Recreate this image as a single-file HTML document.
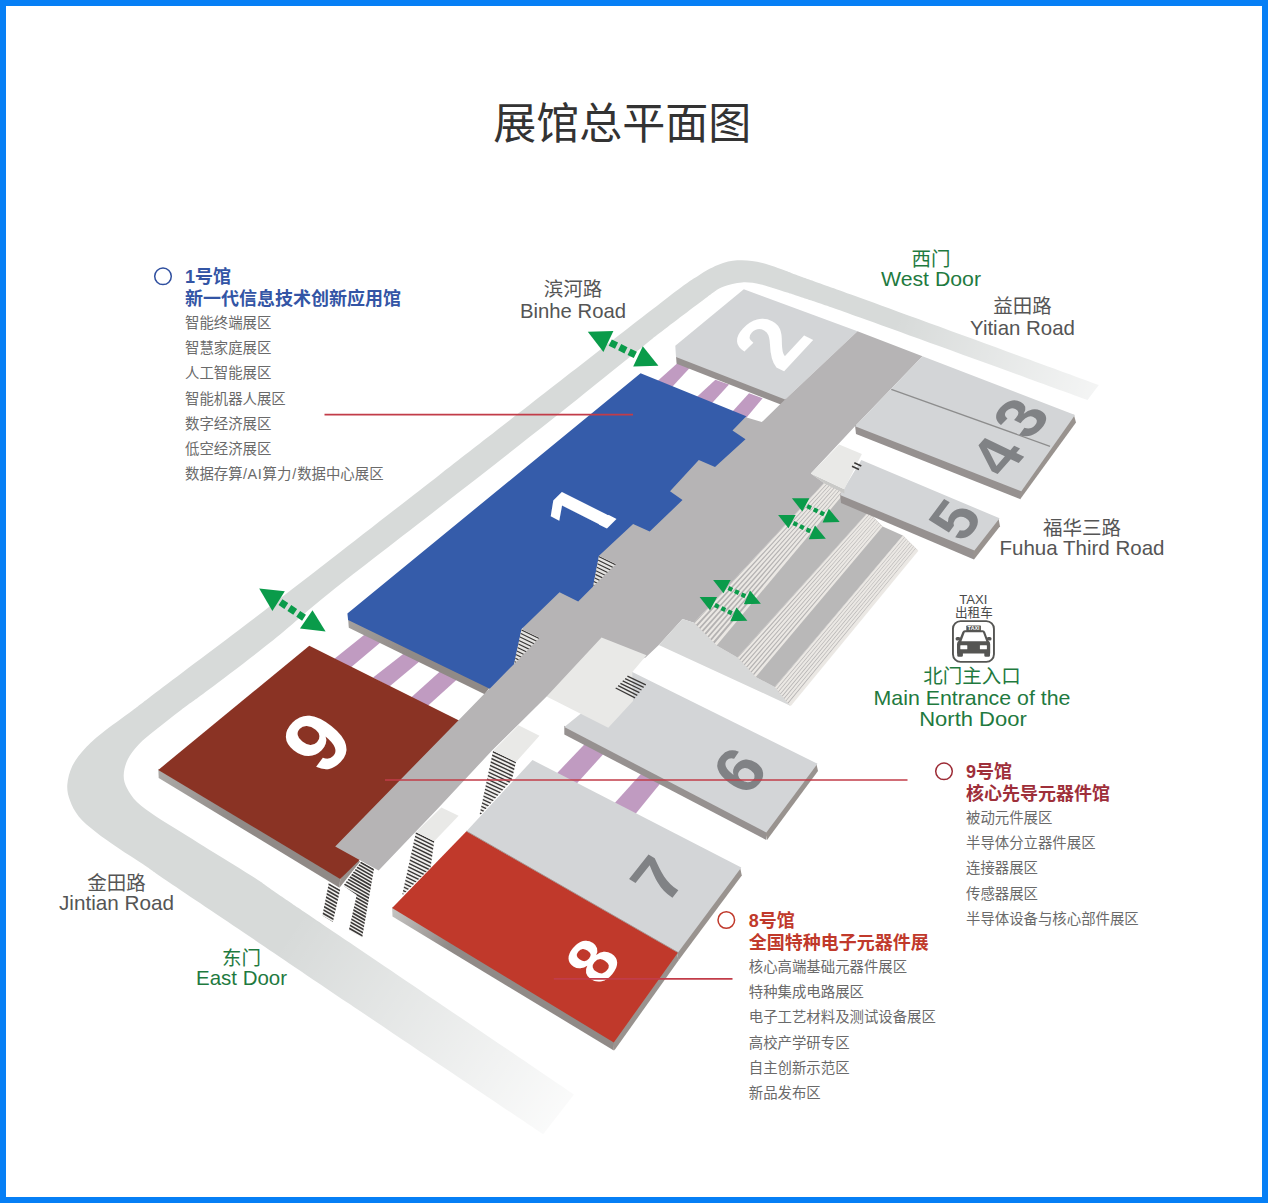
<!DOCTYPE html>
<html lang="zh-CN"><head><meta charset="utf-8"><title>展馆总平面图</title>
<style>
html,body{margin:0;padding:0;background:#fff}
body{width:1268px;height:1203px;position:relative;overflow:hidden;font-family:"Liberation Sans","Noto Sans CJK SC",sans-serif}
.frame{position:absolute;left:0;top:0;width:1256px;height:1191px;border:6px solid #067ff5;pointer-events:none}
</style></head><body>
<svg width="1268" height="1203" viewBox="0 0 1268 1203" style="position:absolute;left:0;top:0;opacity:0.999">
<defs><linearGradient id="gTR" gradientUnits="userSpaceOnUse" x1="895" y1="322" x2="1170" y2="418"><stop offset="0" stop-color="#fff" stop-opacity="0"/><stop offset="1" stop-color="#fff" stop-opacity="1"/></linearGradient><linearGradient id="gBR" gradientUnits="userSpaceOnUse" x1="290" y1="930" x2="580" y2="1125"><stop offset="0" stop-color="#fff" stop-opacity="0"/><stop offset="1" stop-color="#fff" stop-opacity="0.94"/></linearGradient></defs>
<path d="M1098.8,385C1059.0,370.5 909.8,315.9 860.0,297.8C810.2,279.7 812.3,280.8 800.0,276.3C787.7,271.8 792.5,273.2 786.2,271.0C780.0,268.8 769.9,264.9 762.5,263.1C755.1,261.3 748.6,260.3 742.0,260.3C735.4,260.3 730.2,260.7 723.1,263.1C716.0,265.6 709.9,268.3 699.4,275.0C688.9,281.7 691.6,279.2 660.0,303.4C628.4,327.6 546.7,391.5 510.0,420.0C473.3,448.5 469.6,451.4 440.0,474.4C410.4,497.4 364.2,533.5 332.5,558.0C300.8,582.5 278.9,599.5 250.0,621.5C221.1,643.5 178.9,675.2 159.3,690.0C139.7,704.8 141.9,703.4 132.4,710.5C122.9,717.6 110.3,726.4 102.4,732.7C94.5,739.0 90.0,743.0 85.0,748.5C80.0,754.0 75.4,759.8 72.4,765.8C69.5,771.8 67.7,779.0 67.3,784.8C66.9,790.6 68.1,795.3 70.0,800.6C71.9,805.9 74.4,811.1 78.7,816.4C83.0,821.7 89.5,826.9 96.1,832.2C102.7,837.5 110.3,842.6 118.2,848.0C126.1,853.4 135.6,859.3 143.5,864.6C151.4,869.9 148.7,868.6 165.6,880.0C182.5,891.4 214.1,912.5 244.8,933.2C275.5,953.9 300.3,970.8 350.0,1004.3C399.7,1037.8 510.9,1112.5 543.1,1134.2L574,1094.5C536.7,1069.2 399.6,976.3 350.0,942.7C300.4,909.1 292.2,903.7 276.4,892.9C260.6,882.1 265.6,884.8 255.0,878.0C244.4,871.2 225.3,859.6 213.0,852.0C200.7,844.4 190.9,838.1 181.4,832.2C171.9,826.3 163.5,821.4 156.1,816.4C148.7,811.4 142.1,806.9 137.2,802.2C132.3,797.5 129.2,792.5 126.9,788.0C124.7,783.5 123.6,780.0 123.7,775.3C123.8,770.5 125.2,764.6 127.7,759.5C130.2,754.4 134.0,749.5 138.7,744.5C143.4,739.5 149.0,735.3 156.1,729.5C163.2,723.7 172.7,716.3 181.4,709.7C190.1,703.1 192.9,701.6 208.2,690.0C223.5,678.4 253.1,656.2 273.4,640.0C293.7,623.8 302.2,614.7 330.0,592.5C357.8,570.3 403.1,535.8 440.0,507.0C476.9,478.2 517.2,446.9 551.2,420.0C585.2,393.1 625.7,360.2 643.8,345.7C661.9,331.2 649.4,340.9 660.0,332.8C670.6,324.7 696.8,304.7 707.3,297.0C717.8,289.3 717.3,289.2 723.1,286.8C728.9,284.4 735.7,282.8 742.0,282.4C748.3,282.0 753.6,282.8 761.0,284.4C768.4,286.0 779.7,290.2 786.2,292.3C792.7,294.4 787.7,292.6 800.0,296.8C812.3,301.0 812.1,300.3 860.0,317.5C907.9,334.7 1049.6,386.2 1087.5,400.0Z" fill="#d7dad9"/>
<polygon points="870.0,290.0 1110.0,370.0 1100.0,420.0 860.0,330.0" fill="url(#gTR)" />
<polygon points="280.0,900.0 600.0,1090.0 545.0,1160.0 250.0,980.0" fill="url(#gBR)" />
<polygon points="679.3,361.6 691.5,365.9 671.1,387.9 657.0,381.5" fill="#c09bc1" />
<polygon points="715.4,379.8 729.0,384.6 709.8,405.4 694.6,399.0" fill="#c09bc1" />
<polygon points="749.0,393.3 762.6,398.2 744.9,419.4 731.1,413.0" fill="#c09bc1" />
<polygon points="334.4,658.8 365.6,633.8 381.9,641.2 350.7,667.6" fill="#c09bc1" />
<polygon points="373.1,677.5 404.5,653.0 420.6,660.4 389.4,686.4" fill="#c09bc1" />
<polygon points="410.8,697.7 440.5,671.1 458.0,678.6 427.0,706.5" fill="#c09bc1" />
<polygon points="556.0,774.2 585.3,743.4 605.2,752.0 576.1,784.3" fill="#c09bc1" />
<polygon points="613.6,804.3 642.7,772.0 662.5,780.7 635.0,814.4" fill="#c09bc1" />
<linearGradient id="w1" gradientUnits="userSpaceOnUse" x1="158.3" y1="768.7" x2="235.5" y2="815.0"><stop offset="0" stop-color="#adaba8"/><stop offset="1" stop-color="#908a87"/></linearGradient>
<polygon points="158.3,768.7 340.2,877.7 339.5,887.8 158.7,777.9" fill="url(#w1)" />
<polygon points="340.2,878.9 355.8,859.2 360.2,861.5 339.5,887.8" fill="#99938f" />
<polygon points="309.3,645.8 158.3,769.9 340.2,878.9 380.0,840.0 470.0,726.0" fill="#8a3324" />
<polygon points="676.0,355.9 786.0,398.6 786.0,406.5 676.6,363.8" fill="#969190" />
<polygon points="675.3,345.8 743.8,289.3 857.5,331.3 785.1,399.4 676.0,357.1" fill="#d3d5d7" />
<linearGradient id="w2" gradientUnits="userSpaceOnUse" x1="348.1" y1="618.7" x2="411.1" y2="649.3"><stop offset="0" stop-color="#a4a19e"/><stop offset="1" stop-color="#908a87"/></linearGradient>
<polygon points="348.1,618.7 489.7,687.5 484.7,694.2 348.8,627.7" fill="url(#w2)" />
<polygon points="857.5,331.3 922.5,356.3 855.0,426.3 810.8,473.5 824.1,483.0 693.9,622.7 682.5,618.9 658.8,645.0 645.6,657.4 546.6,696.5 492.5,750.0 438.8,807.5 378.6,870.6 335.2,846.4 458.8,720.0 490.0,688.0 560.0,560.0 700.0,440.0 745.0,417.0 761.8,422.1 779.4,405.1 785.1,399.4" fill="#b6b4b5" />
<polygon points="640.6,373.2 746.3,416.3 732.5,430.5 745.5,439.3 715.0,467.0 698.8,460.0 670.0,491.3 682.5,500.0 649.7,531.6 633.1,524.1 599.0,555.7 593.1,586.5 578.2,601.5 559.5,592.3 521.6,629.0 514.1,663.9 489.7,688.7 348.1,619.9 347.4,613.5" fill="#355caa" />
<polygon points="599.0,555.7 616.1,564.1 593.1,586.5" fill="#e4e3e1" />
<clipPath id="h1"><polygon points="599.0,555.7 616.1,564.1 593.1,586.5"/></clipPath>
<path d="M592.1,545.5L617.1,557.7M592.1,549.4L617.1,561.6M592.1,553.3L617.1,565.5M592.1,557.2L617.1,569.4M592.1,561.1L617.1,573.3M592.1,565.0L617.1,577.2M592.1,568.9L617.1,581.1M592.1,572.8L617.1,585.0M592.1,576.7L617.1,588.9M592.1,580.6L617.1,592.8M592.1,584.5L617.1,596.7M592.1,588.4L617.1,600.6M592.1,592.3L617.1,604.5" stroke="#3b3938" stroke-width="1.15" fill="none" clip-path="url(#h1)"/>
<polygon points="521.6,629.0 539.6,637.8 514.1,663.9" fill="#e4e3e1" />
<clipPath id="h2"><polygon points="521.6,629.0 539.6,637.8 514.1,663.9"/></clipPath>
<path d="M513.1,618.1L540.6,631.4M513.1,622.0L540.6,635.3M513.1,625.9L540.6,639.2M513.1,629.8L540.6,643.1M513.1,633.7L540.6,647.0M513.1,637.6L540.6,650.9M513.1,641.5L540.6,654.8M513.1,645.4L540.6,658.7M513.1,649.3L540.6,662.6M513.1,653.2L540.6,666.5M513.1,657.1L540.6,670.4M513.1,661.0L540.6,674.3M513.1,664.9L540.6,678.2M513.1,668.8L540.6,682.1" stroke="#3b3938" stroke-width="1.15" fill="none" clip-path="url(#h2)"/>
<polygon points="855.0,425.1 1021.3,490.1 1020.0,499.0 856.0,434.0" fill="#969190" />
<polygon points="1073.8,414.6 1076.0,422.5 1020.0,499.5 1020.0,490.8" fill="#99938f" />
<polygon points="922.5,356.3 1075.0,415.0 1021.3,491.3 855.0,426.3" fill="#d3d5d7" />
<line x1="891.3" y1="389.3" x2="1050" y2="446.3" stroke="#8d8d8d" stroke-width="1.3"/>
<polygon points="682.5,618.9 693.9,622.7 716.6,645.4 737.4,657.4 755.7,677.0 774.6,687.1 789.8,705.4 658.8,645.0" fill="#d7d8d8" />
<polygon points="824.1,483.0 844.3,493.1 716.6,645.4 693.9,622.7" fill="#b4b2b2" />
<line x1="825.4" y1="483.6" x2="695.3" y2="624.1" stroke="#ebe8e4" stroke-width="2.15"/>
<line x1="827.9" y1="484.9" x2="698.2" y2="627.0" stroke="#ebe8e4" stroke-width="2.15"/>
<line x1="830.4" y1="486.2" x2="701.0" y2="629.8" stroke="#ebe8e4" stroke-width="2.15"/>
<line x1="832.9" y1="487.4" x2="703.8" y2="632.6" stroke="#ebe8e4" stroke-width="2.15"/>
<line x1="835.5" y1="488.7" x2="706.7" y2="635.5" stroke="#ebe8e4" stroke-width="2.15"/>
<line x1="838.0" y1="489.9" x2="709.5" y2="638.3" stroke="#ebe8e4" stroke-width="2.15"/>
<line x1="840.5" y1="491.2" x2="712.3" y2="641.1" stroke="#ebe8e4" stroke-width="2.15"/>
<line x1="843.7" y1="492.8" x2="715.9" y2="644.7" stroke="#ebe8e4" stroke-width="3.6"/>
<polygon points="844.3,493.1 868.2,512.0 737.4,657.4 716.6,645.4" fill="#b9b8b8" />
<polygon points="868.2,512.0 882.7,526.5 755.7,677.0 737.4,657.4" fill="#b4b2b2" />
<line x1="869.1" y1="512.9" x2="738.5" y2="658.6" stroke="#ebe8e4" stroke-width="2.15"/>
<line x1="870.9" y1="514.7" x2="740.8" y2="661.1" stroke="#ebe8e4" stroke-width="2.15"/>
<line x1="872.7" y1="516.5" x2="743.1" y2="663.5" stroke="#ebe8e4" stroke-width="2.15"/>
<line x1="874.5" y1="518.3" x2="745.4" y2="666.0" stroke="#ebe8e4" stroke-width="2.15"/>
<line x1="876.4" y1="520.2" x2="747.7" y2="668.4" stroke="#ebe8e4" stroke-width="2.15"/>
<line x1="878.2" y1="522.0" x2="750.0" y2="670.9" stroke="#ebe8e4" stroke-width="2.15"/>
<line x1="880.0" y1="523.8" x2="752.3" y2="673.3" stroke="#ebe8e4" stroke-width="2.15"/>
<line x1="882.3" y1="526.1" x2="755.2" y2="676.5" stroke="#ebe8e4" stroke-width="3.6"/>
<polygon points="882.7,526.5 902.9,535.4 774.6,687.1 755.7,677.0" fill="#b9b8b8" />
<polygon points="902.9,535.4 917.4,550.0 789.8,705.4 774.6,687.1" fill="#b4b2b2" />
<line x1="903.8" y1="536.3" x2="775.6" y2="688.2" stroke="#ebe8e4" stroke-width="2.15"/>
<line x1="905.6" y1="538.1" x2="777.5" y2="690.5" stroke="#ebe8e4" stroke-width="2.15"/>
<line x1="907.4" y1="540.0" x2="779.4" y2="692.8" stroke="#ebe8e4" stroke-width="2.15"/>
<line x1="909.2" y1="541.8" x2="781.2" y2="695.1" stroke="#ebe8e4" stroke-width="2.15"/>
<line x1="911.1" y1="543.6" x2="783.1" y2="697.4" stroke="#ebe8e4" stroke-width="2.15"/>
<line x1="912.9" y1="545.4" x2="785.0" y2="699.7" stroke="#ebe8e4" stroke-width="2.15"/>
<line x1="914.7" y1="547.3" x2="786.9" y2="702.0" stroke="#ebe8e4" stroke-width="2.15"/>
<line x1="917.0" y1="549.6" x2="789.4" y2="704.9" stroke="#ebe8e4" stroke-width="3.6"/>
<polygon points="840.0,493.8 974.4,549.4 974.0,559.5 841.0,503.0" fill="#969190" />
<polygon points="998.4,518.0 1000.0,526.3 974.0,559.5 973.0,550.3" fill="#99938f" />
<polygon points="861.3,460.0 999.6,518.3 974.4,550.6 840.0,495.0" fill="#d3d5d7" />
<polygon points="810.8,473.5 844.3,489.3 844.3,493.6 824.1,483.3" fill="#c9c9c7" />
<polygon points="810.8,473.5 839.2,444.5 861.9,454.0 844.3,489.3" fill="#e9e9e7" />
<path d="M854.3,462.7L861.3,466M852,466.2L859,469.5" stroke="#3b3938" stroke-width="1.5" fill="none"/>
<polygon points="564.3,725.8 766.3,831.3 766.3,840.0 564.3,734.5" fill="#969190" />
<polygon points="816.3,763.3 818.0,771.0 767.0,840.0 765.3,832.0" fill="#99938f" />
<polygon points="564.3,727.0 632.3,672.1 817.5,763.8 766.3,832.5" fill="#d3d5d7" />
<polygon points="601.5,637.5 646.5,655.2 632.3,672.1 633.0,700.9 608.3,727.8 546.6,696.5" fill="#e9e9e7" />
<line x1="627.4" y1="676.2" x2="645.8" y2="684.8" stroke="#3b3938" stroke-width="1.3"/>
<line x1="625.1" y1="678.6" x2="643.7" y2="687.4" stroke="#3b3938" stroke-width="1.3"/>
<line x1="622.7" y1="680.9" x2="641.5" y2="690.0" stroke="#3b3938" stroke-width="1.3"/>
<line x1="620.4" y1="683.3" x2="639.4" y2="692.6" stroke="#3b3938" stroke-width="1.3"/>
<line x1="618.1" y1="685.7" x2="637.3" y2="695.3" stroke="#3b3938" stroke-width="1.3"/>
<line x1="615.7" y1="688.0" x2="635.1" y2="697.9" stroke="#3b3938" stroke-width="1.3"/>
<polygon points="493.1,750.7 516.0,761.9 511.8,779.9 480.3,815.1 479.6,814.5" fill="#f0efed" />
<clipPath id="h3"><polygon points="493.1,750.7 516.0,761.9 511.8,779.9 480.3,815.1 479.6,814.5"/></clipPath>
<path d="M478.6,737.5L517.0,755.6M478.6,741.3L517.0,759.3M478.6,745.0L517.0,763.1M478.6,748.8L517.0,766.8M478.6,752.5L517.0,770.6M478.6,756.3L517.0,774.3M478.6,760.0L517.0,778.1M478.6,763.8L517.0,781.8M478.6,767.5L517.0,785.6M478.6,771.3L517.0,789.3M478.6,775.0L517.0,793.1M478.6,778.8L517.0,796.8M478.6,782.5L517.0,800.6M478.6,786.3L517.0,804.3M478.6,790.0L517.0,808.1M478.6,793.8L517.0,811.8M478.6,797.5L517.0,815.6M478.6,801.3L517.0,819.3M478.6,805.0L517.0,823.1M478.6,808.8L517.0,826.8M478.6,812.5L517.0,830.6M478.6,816.3L517.0,834.3M478.6,820.0L517.0,838.1" stroke="#3b3938" stroke-width="1.45" fill="none" clip-path="url(#h3)"/>
<polygon points="493.1,750.7 518.5,725.2 539.5,735.7 516.0,761.9" fill="#e9e9e7" />
<polygon points="416.0,832.0 434.2,841.3 430.6,867.5 403.2,894.6 402.3,894.2" fill="#f0efed" />
<clipPath id="h4"><polygon points="416.0,832.0 434.2,841.3 430.6,867.5 403.2,894.6 402.3,894.2"/></clipPath>
<path d="M401.3,818.4L435.2,835.0M401.3,822.2L435.2,838.8M401.3,825.9L435.2,842.5M401.3,829.7L435.2,846.3M401.3,833.4L435.2,850.0M401.3,837.2L435.2,853.8M401.3,840.9L435.2,857.5M401.3,844.7L435.2,861.3M401.3,848.4L435.2,865.0M401.3,852.2L435.2,868.8M401.3,855.9L435.2,872.5M401.3,859.7L435.2,876.3M401.3,863.4L435.2,880.0M401.3,867.2L435.2,883.8M401.3,870.9L435.2,887.5M401.3,874.7L435.2,891.3M401.3,878.4L435.2,895.0M401.3,882.2L435.2,898.8M401.3,885.9L435.2,902.5M401.3,889.7L435.2,906.3M401.3,893.4L435.2,910.0M401.3,897.2L435.2,913.8M401.3,900.9L435.2,917.5" stroke="#3b3938" stroke-width="1.45" fill="none" clip-path="url(#h4)"/>
<polygon points="416.0,832.0 441.4,807.6 458.6,815.8 434.2,841.3" fill="#e9e9e7" />
<polygon points="328.8,883.0 340.2,889.4 332.9,921.9 322.4,915.5" fill="#f0efed" />
<clipPath id="h5"><polygon points="328.8,883.0 340.2,889.4 332.9,921.9 322.4,915.5"/></clipPath>
<path d="M321.4,872.8L341.2,884.1M321.4,876.4L341.2,887.7M321.4,880.0L341.2,891.3M321.4,883.6L341.2,894.9M321.4,887.2L341.2,898.5M321.4,890.8L341.2,902.1M321.4,894.4L341.2,905.7M321.4,898.0L341.2,909.3M321.4,901.6L341.2,912.9M321.4,905.2L341.2,916.5M321.4,908.8L341.2,920.1M321.4,912.4L341.2,923.7M321.4,916.0L341.2,927.3M321.4,919.6L341.2,930.9" stroke="#3b3938" stroke-width="1.6" fill="none" clip-path="url(#h5)"/>
<polygon points="361.2,861.5 374.0,868.8 362.2,937.4 348.9,930.1 356.7,894.9 343.4,885.7" fill="#f0efed" />
<clipPath id="h6"><polygon points="361.2,861.5 374.0,868.8 362.2,937.4 348.9,930.1 356.7,894.9 343.4,885.7"/></clipPath>
<path d="M342.4,845.1L375.0,863.7M342.4,848.5L375.0,867.1M342.4,852.0L375.0,870.6M342.4,855.4L375.0,874.0M342.4,858.9L375.0,877.5M342.4,862.3L375.0,880.9M342.4,865.8L375.0,884.4M342.4,869.2L375.0,887.8M342.4,872.7L375.0,891.3M342.4,876.1L375.0,894.7M342.4,879.6L375.0,898.2M342.4,883.0L375.0,901.6M342.4,886.5L375.0,905.1M342.4,889.9L375.0,908.5M342.4,893.4L375.0,912.0M342.4,896.8L375.0,915.4M342.4,900.3L375.0,918.9M342.4,903.7L375.0,922.3M342.4,907.2L375.0,925.8M342.4,910.6L375.0,929.2M342.4,914.1L375.0,932.7M342.4,917.5L375.0,936.1M342.4,921.0L375.0,939.6M342.4,924.4L375.0,943.0M342.4,927.9L375.0,946.5M342.4,931.3L375.0,949.9" stroke="#3b3938" stroke-width="1.6" fill="none" clip-path="url(#h6)"/>
<polygon points="740.0,867.0 741.8,875.5 678.5,960.5 676.8,952.0" fill="#99938f" />
<polygon points="676.8,952.0 678.5,960.5 614.3,1050.5 612.8,1042.0" fill="#99938f" />
<linearGradient id="w3" gradientUnits="userSpaceOnUse" x1="392.1" y1="906.8" x2="451.9" y2="943.1"><stop offset="0" stop-color="#c6c5c3"/><stop offset="1" stop-color="#908a87"/></linearGradient>
<polygon points="392.1,906.8 613.8,1041.3 613.8,1050.5 392.5,916.5" fill="url(#w3)" />
<polygon points="532.5,760.0 741.3,867.5 678.0,952.5 466.5,831.2" fill="#d3d5d7" />
<polygon points="466.5,831.2 678.0,952.5 613.8,1042.5 392.1,908.0" fill="#c0392b" />
<line x1="466.5" y1="831.2" x2="678" y2="952.5" stroke="#a3928d" stroke-width="0.9"/>
<clipPath id="c1"><path d="M-5,-80 H60 V-10.18 H33.20 V5 H20.26 V-10.18 H-5 Z"/></clipPath>
<text transform="matrix(0.747 -0.747 0.893 0.449 591.7 543.7)" font-family="Liberation Sans, sans-serif" font-weight="700" font-size="88.5" fill="#fff" clip-path="url(#c1)">1</text>
<text transform="matrix(0.700 -0.714 0.783 0.622 323.7 778.0)" font-family="Liberation Sans, sans-serif" font-weight="700" font-size="87.9" fill="#fff">9</text>
<text transform="matrix(0.680 -0.733 0.900 0.436 782.1 373.5)" font-family="Liberation Sans, sans-serif" font-weight="700" font-size="88.7" fill="#fff">2</text>
<text transform="matrix(0.661 -0.751 0.893 0.451 1029.1 441.4)" font-family="Liberation Sans, sans-serif" font-weight="700" font-size="64.9" fill="#808285">3</text>
<text transform="matrix(0.661 -0.751 0.903 0.429 1004.9 478.5)" font-family="Liberation Sans, sans-serif" font-weight="700" font-size="63.2" fill="#808285">4</text>
<text transform="matrix(0.600 -0.800 0.878 0.479 963.6 544.1)" font-family="Liberation Sans, sans-serif" font-weight="700" font-size="62.4" fill="#808285">5</text>
<text transform="matrix(0.661 -0.751 0.806 0.592 745.8 797.9)" font-family="Liberation Sans, sans-serif" font-weight="700" font-size="66.6" fill="#808285">6</text>
<text transform="matrix(0.620 -0.785 0.854 0.521 666.5 905.3)" font-family="Liberation Sans, sans-serif" font-weight="700" font-size="66.7" fill="#808285">7</text>
<text transform="matrix(0.639 -0.769 0.835 0.551 600.0 987.8)" font-family="Liberation Sans, sans-serif" font-weight="700" font-size="66.4" fill="#fff">8</text>
<polygon points="587.8,331.7 613.4,331.0 603.4,351.9" fill="#0a9b4a" />
<polygon points="642.8,346.3 658.4,365.8 633.2,366.5" fill="#0a9b4a" />
<line x1="610.26" y1="342.55" x2="635.34" y2="354.95" stroke="#0a9b4a" stroke-width="7.0" stroke-dasharray="7.00 3.49"/>
<polygon points="259.2,588.4 284.8,591.2 272.4,610.9" fill="#0a9b4a" />
<polygon points="312.5,610.2 325.6,631.5 300.0,628.6" fill="#0a9b4a" />
<line x1="280.48" y1="602.17" x2="304.02" y2="617.73" stroke="#0a9b4a" stroke-width="7.0" stroke-dasharray="7.00 3.61"/>
<polygon points="699.6,597.1 717.1,597.1 710.0,610.3" fill="#0a9b4a" />
<polygon points="736.5,607.5 747.4,620.7 730.3,621.2" fill="#0a9b4a" />
<line x1="714.87" y1="604.96" x2="731.83" y2="613.24" stroke="#0a9b4a" stroke-width="4.3" stroke-dasharray="4.30 2.99"/>
<polygon points="713.1,580.1 730.6,580.1 723.5,593.3" fill="#0a9b4a" />
<polygon points="750.0,590.5 760.9,603.7 743.8,604.2" fill="#0a9b4a" />
<line x1="728.37" y1="587.96" x2="745.33" y2="596.24" stroke="#0a9b4a" stroke-width="4.3" stroke-dasharray="4.30 2.99"/>
<polygon points="778.1,515.1 795.6,515.1 788.5,528.3" fill="#0a9b4a" />
<polygon points="815.0,525.5 825.9,538.7 808.8,539.2" fill="#0a9b4a" />
<line x1="793.37" y1="522.96" x2="810.33" y2="531.24" stroke="#0a9b4a" stroke-width="4.3" stroke-dasharray="4.30 2.99"/>
<polygon points="791.9,498.3 809.4,498.3 802.3,511.5" fill="#0a9b4a" />
<polygon points="828.8,508.7 839.7,521.9 822.6,522.4" fill="#0a9b4a" />
<line x1="807.17" y1="506.16" x2="824.13" y2="514.44" stroke="#0a9b4a" stroke-width="4.3" stroke-dasharray="4.30 2.99"/>
<line x1="324.5" y1="414.6" x2="633" y2="414.6" stroke="#c23c49" stroke-width="1.7"/>
<line x1="385" y1="780" x2="907.5" y2="780" stroke="#c23c49" stroke-width="1.7"/>
<line x1="553.8" y1="978.8" x2="732.5" y2="978.8" stroke="#c23c49" stroke-width="1.7"/>
<circle cx="163" cy="276.3" r="8.3" fill="none" stroke="#2f4f9f" stroke-width="1.5"/>
<circle cx="944" cy="771.3" r="8.3" fill="none" stroke="#9c2b35" stroke-width="1.5"/>
<circle cx="726.3" cy="920" r="8.3" fill="none" stroke="#c0392b" stroke-width="1.5"/>
<g transform="translate(952,620.2)"><rect x="0.95" y="0.95" width="41" height="40.7" rx="7.6" ry="7.6" fill="#fff" stroke="#555553" stroke-width="1.9"/><rect x="14.3" y="5.4" width="14.6" height="5.6" rx="0.6" fill="#555553"/><path d="M12.9,10 H30.6 Q32.4,10 33.1,11.7 L36.2,20.2 Q38.2,21.3 38.2,24 V33.3 H5 V24 Q5,21.3 7,20.2 L10.4,11.7 Q11.1,10 12.9,10 Z" fill="#555553"/><path d="M12.8,12 H30.9 L34.3,21 H9.4 Z" fill="#fff"/><rect x="3.6" y="16.7" width="4.8" height="3.6" rx="1.6" fill="#555553"/><rect x="34.7" y="16.7" width="4.8" height="3.6" rx="1.6" fill="#555553"/><rect x="8.3" y="25" width="7" height="4" rx="0.5" fill="#fff"/><rect x="27.9" y="25" width="7" height="4" rx="0.5" fill="#fff"/><path d="M5.2,32.5 H10.9 V35.2 Q10.9,36.6 9.5,36.6 H6.6 Q5.2,36.6 5.2,35.2 Z M32.3,32.5 H38 V35.2 Q38,36.6 36.6,36.6 H33.7 Q32.3,36.6 32.3,35.2 Z" fill="#555553"/><text x="21.6" y="9.9" font-family="Liberation Sans, sans-serif" font-weight="700" font-size="4.6" fill="#fff" text-anchor="middle" textLength="11.5" lengthAdjust="spacingAndGlyphs">TAXI</text></g>
<text x="622.3" y="139" font-family='"Liberation Sans", "Noto Sans CJK SC", sans-serif' font-size="43.0" font-weight="400" fill="#333" text-anchor="middle" >展馆总平面图</text>
<text x="573" y="296.02" font-family='"Liberation Sans", "Noto Sans CJK SC", sans-serif' font-size="19.5" font-weight="400" fill="#555" text-anchor="middle" >滨河路</text>
<text x="573" y="318" font-family='"Liberation Sans", "Noto Sans CJK SC", sans-serif' font-size="21" font-weight="400" fill="#555" text-anchor="middle" textLength="106" lengthAdjust="spacingAndGlyphs" >Binhe Road</text>
<text x="1022.5" y="313.02" font-family='"Liberation Sans", "Noto Sans CJK SC", sans-serif' font-size="19.5" font-weight="400" fill="#555" text-anchor="middle" >益田路</text>
<text x="1022.5" y="335" font-family='"Liberation Sans", "Noto Sans CJK SC", sans-serif' font-size="21" font-weight="400" fill="#555" text-anchor="middle" textLength="105" lengthAdjust="spacingAndGlyphs" >Yitian Road</text>
<text x="1082" y="534.52" font-family='"Liberation Sans", "Noto Sans CJK SC", sans-serif' font-size="19.5" font-weight="400" fill="#555" text-anchor="middle" >福华三路</text>
<text x="1082" y="555" font-family='"Liberation Sans", "Noto Sans CJK SC", sans-serif' font-size="21" font-weight="400" fill="#555" text-anchor="middle" textLength="165" lengthAdjust="spacingAndGlyphs" >Fuhua Third Road</text>
<text x="116.5" y="889.52" font-family='"Liberation Sans", "Noto Sans CJK SC", sans-serif' font-size="19.5" font-weight="400" fill="#555" text-anchor="middle" >金田路</text>
<text x="116.5" y="910" font-family='"Liberation Sans", "Noto Sans CJK SC", sans-serif' font-size="21" font-weight="400" fill="#555" text-anchor="middle" textLength="115" lengthAdjust="spacingAndGlyphs" >Jintian Road</text>
<text x="241.5" y="964.52" font-family='"Liberation Sans", "Noto Sans CJK SC", sans-serif' font-size="19.5" font-weight="400" fill="#1f7a3f" text-anchor="middle" >东门</text>
<text x="241.5" y="985" font-family='"Liberation Sans", "Noto Sans CJK SC", sans-serif' font-size="21" font-weight="400" fill="#1f7a3f" text-anchor="middle" textLength="91" lengthAdjust="spacingAndGlyphs" >East Door</text>
<text x="931" y="265.82" font-family='"Liberation Sans", "Noto Sans CJK SC", sans-serif' font-size="19.5" font-weight="400" fill="#1f7a3f" text-anchor="middle" >西门</text>
<text x="931" y="286" font-family='"Liberation Sans", "Noto Sans CJK SC", sans-serif' font-size="21" font-weight="400" fill="#1f7a3f" text-anchor="middle" textLength="100" lengthAdjust="spacingAndGlyphs" >West Door</text>
<text x="972" y="683.02" font-family='"Liberation Sans", "Noto Sans CJK SC", sans-serif' font-size="19.5" font-weight="400" fill="#1f7a3f" text-anchor="middle" >北门主入口</text>
<text x="972" y="705" font-family='"Liberation Sans", "Noto Sans CJK SC", sans-serif' font-size="21" font-weight="400" fill="#1f7a3f" text-anchor="middle" textLength="197" lengthAdjust="spacingAndGlyphs" >Main Entrance of the</text>
<text x="973" y="726" font-family='"Liberation Sans", "Noto Sans CJK SC", sans-serif' font-size="21" font-weight="400" fill="#1f7a3f" text-anchor="middle" textLength="107.5" lengthAdjust="spacingAndGlyphs" >North Door</text>
<text x="973.4" y="603.6" font-family='"Liberation Sans", "Noto Sans CJK SC", sans-serif' font-size="13.6" font-weight="400" fill="#4a4a4a" text-anchor="middle" textLength="28.2" lengthAdjust="spacingAndGlyphs" >TAXI</text>
<text x="973.9" y="617.3" font-family='"Liberation Sans", "Noto Sans CJK SC", sans-serif' font-size="12.6" font-weight="400" fill="#4a4a4a" text-anchor="middle" >出租车</text>
<text x="185" y="283.3" font-family='"Liberation Sans", "Noto Sans CJK SC", sans-serif' font-size="18" font-weight="700" fill="#3355a5" text-anchor="start" >1号馆</text>
<text x="185" y="305.1" font-family='"Liberation Sans", "Noto Sans CJK SC", sans-serif' font-size="18" font-weight="700" fill="#3355a5" text-anchor="start" >新一代信息技术创新应用馆</text>
<text x="185" y="328.1" font-family='"Liberation Sans", "Noto Sans CJK SC", sans-serif' font-size="14.4" font-weight="400" fill="#6a6a6a" text-anchor="start" >智能终端展区</text>
<text x="185" y="353.25" font-family='"Liberation Sans", "Noto Sans CJK SC", sans-serif' font-size="14.4" font-weight="400" fill="#6a6a6a" text-anchor="start" >智慧家庭展区</text>
<text x="185" y="378.40000000000003" font-family='"Liberation Sans", "Noto Sans CJK SC", sans-serif' font-size="14.4" font-weight="400" fill="#6a6a6a" text-anchor="start" >人工智能展区</text>
<text x="185" y="403.55" font-family='"Liberation Sans", "Noto Sans CJK SC", sans-serif' font-size="14.4" font-weight="400" fill="#6a6a6a" text-anchor="start" >智能机器人展区</text>
<text x="185" y="428.70000000000005" font-family='"Liberation Sans", "Noto Sans CJK SC", sans-serif' font-size="14.4" font-weight="400" fill="#6a6a6a" text-anchor="start" >数字经济展区</text>
<text x="185" y="453.85" font-family='"Liberation Sans", "Noto Sans CJK SC", sans-serif' font-size="14.4" font-weight="400" fill="#6a6a6a" text-anchor="start" >低空经济展区</text>
<text x="185" y="479.0" font-family='"Liberation Sans", "Noto Sans CJK SC", sans-serif' font-size="14.4" font-weight="400" fill="#6a6a6a" text-anchor="start" >数据存算<tspan dx="0.3" letter-spacing="0.7">/AI</tspan>算力<tspan dx="0.9" letter-spacing="0.9">/</tspan>数据中心展区</text>
<text x="966" y="778.3" font-family='"Liberation Sans", "Noto Sans CJK SC", sans-serif' font-size="18" font-weight="700" fill="#9e2f3a" text-anchor="start" >9号馆</text>
<text x="966" y="800.0999999999999" font-family='"Liberation Sans", "Noto Sans CJK SC", sans-serif' font-size="18" font-weight="700" fill="#9e2f3a" text-anchor="start" >核心先导元器件馆</text>
<text x="966" y="823.1" font-family='"Liberation Sans", "Noto Sans CJK SC", sans-serif' font-size="14.4" font-weight="400" fill="#6a6a6a" text-anchor="start" >被动元件展区</text>
<text x="966" y="848.25" font-family='"Liberation Sans", "Noto Sans CJK SC", sans-serif' font-size="14.4" font-weight="400" fill="#6a6a6a" text-anchor="start" >半导体分立器件展区</text>
<text x="966" y="873.4" font-family='"Liberation Sans", "Noto Sans CJK SC", sans-serif' font-size="14.4" font-weight="400" fill="#6a6a6a" text-anchor="start" >连接器展区</text>
<text x="966" y="898.5500000000001" font-family='"Liberation Sans", "Noto Sans CJK SC", sans-serif' font-size="14.4" font-weight="400" fill="#6a6a6a" text-anchor="start" >传感器展区</text>
<text x="966" y="923.7" font-family='"Liberation Sans", "Noto Sans CJK SC", sans-serif' font-size="14.4" font-weight="400" fill="#6a6a6a" text-anchor="start" >半导体设备与核心部件展区</text>
<text x="748.8" y="927.3" font-family='"Liberation Sans", "Noto Sans CJK SC", sans-serif' font-size="18" font-weight="700" fill="#c0392b" text-anchor="start" >8号馆</text>
<text x="748.8" y="948.8" font-family='"Liberation Sans", "Noto Sans CJK SC", sans-serif' font-size="18" font-weight="700" fill="#c0392b" text-anchor="start" >全国特种电子元器件展</text>
<text x="748.8" y="972.1" font-family='"Liberation Sans", "Noto Sans CJK SC", sans-serif' font-size="14.4" font-weight="400" fill="#6a6a6a" text-anchor="start" >核心高端基础元器件展区</text>
<text x="748.8" y="997.25" font-family='"Liberation Sans", "Noto Sans CJK SC", sans-serif' font-size="14.4" font-weight="400" fill="#6a6a6a" text-anchor="start" >特种集成电路展区</text>
<text x="748.8" y="1022.4" font-family='"Liberation Sans", "Noto Sans CJK SC", sans-serif' font-size="14.4" font-weight="400" fill="#6a6a6a" text-anchor="start" >电子工艺材料及测试设备展区</text>
<text x="748.8" y="1047.55" font-family='"Liberation Sans", "Noto Sans CJK SC", sans-serif' font-size="14.4" font-weight="400" fill="#6a6a6a" text-anchor="start" >高校产学研专区</text>
<text x="748.8" y="1072.6999999999998" font-family='"Liberation Sans", "Noto Sans CJK SC", sans-serif' font-size="14.4" font-weight="400" fill="#6a6a6a" text-anchor="start" >自主创新示范区</text>
<text x="748.8" y="1097.85" font-family='"Liberation Sans", "Noto Sans CJK SC", sans-serif' font-size="14.4" font-weight="400" fill="#6a6a6a" text-anchor="start" >新品发布区</text>
</svg>
<div class="frame"></div>
</body></html>
